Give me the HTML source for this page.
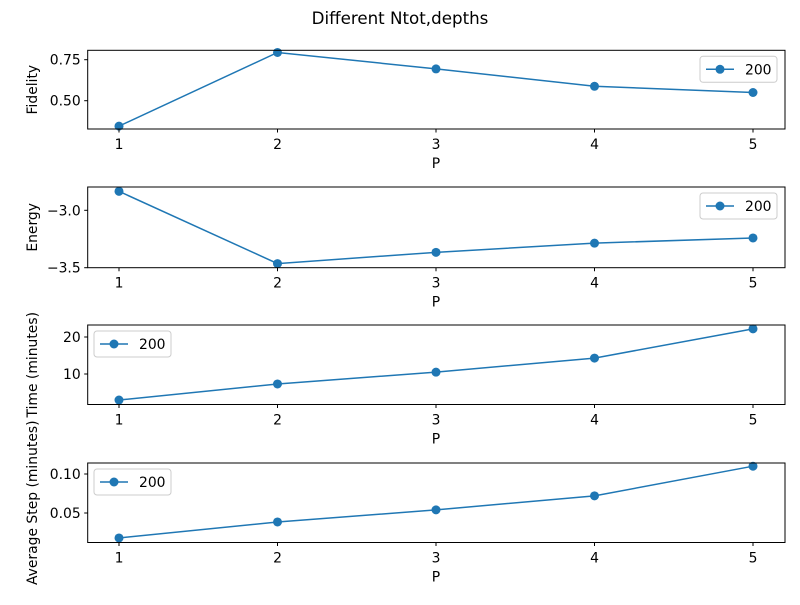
<!DOCTYPE html>
<html><head><meta charset="utf-8"><style>
body{margin:0;background:#fff}
svg text{font-family:"DejaVu Sans","Liberation Sans",sans-serif;fill:#000}
</style></head><body>
<svg id="fig" width="800" height="600" viewBox="0 0 800 600" xmlns="http://www.w3.org/2000/svg">
<text x="400" y="24" font-size="16.7" text-anchor="middle">Different Ntot,depths</text>
</svg>
<script>
const categories=[1,2,3,4,5];
const fidelity=[0.345,0.794,0.694,0.588,0.55];
const energy=[-2.835,-3.464,-3.366,-3.286,-3.241];
const timeMin=[2.97,7.3,10.5,14.3,22.2];
const avgStep=[0.018,0.0385,0.054,0.072,0.110];
const fidTicks=[0.5,0.75], fidLabels=["0.50","0.75"];
const enTicks=[-3.5,-3.0], enLabels=["\u22123.5","\u22123.0"];
const timeTicks=[10,20], timeLabels=["10","20"];
const stepTicks=[0.05,0.10], stepLabels=["0.05","0.10"];
const NS="http://www.w3.org/2000/svg";
const svg=document.getElementById('fig');
function mk(tag,attrs,parent){const e=document.createElementNS(NS,tag);for(const k in attrs)e.setAttribute(k,attrs[k]);(parent||svg).appendChild(e);return e;}
const L=87.7,R=785,P1=119,P5=753;
function xs(p){return P1+(p-1)*(P5-P1)/4;}
const panels=[
 {name:'fidelity',top:50.3,bot:129,vals:fidelity,ticks:fidTicks,labels:fidLabels,ref:[0.5,100.7,0.75,59.7],ylabel:'Fidelity',legR:true},
 {name:'energy',top:187,bot:267.7,vals:energy,ticks:enTicks,labels:enLabels,ref:[-3.5,267.7,-3.0,210.3],ylabel:'Energy',legR:true},
 {name:'time',top:325,bot:404.5,vals:timeMin,ticks:timeTicks,labels:timeLabels,ref:[10,374,20,337],ylabel:'Time (minutes)',legR:false},
 {name:'avg-step',top:463,bot:542.5,vals:avgStep,ticks:stepTicks,labels:stepLabels,ref:[0.05,513,0.10,474],ylabel:'Average Step (minutes)',legR:false}
];
panels.forEach(p=>{
 const g=mk('g',{});
 
 
 const [v0,y0,v1,y1]=p.ref;
 const ys=v=>y0+(v-v0)*(y1-y0)/(v1-v0);
 const line=mk('polyline',{points:p.vals.map((v,i)=>xs(categories[i])+','+ys(v)).join(' '),fill:'none',stroke:'#1f77b4','stroke-width':1.5},g);
 
 
 p.vals.forEach((v,i)=>{
  const c=mk('circle',{cx:xs(categories[i]),cy:ys(v),r:4.5,fill:'#1f77b4'},g);
  
  
 });
 const fr=mk('rect',{x:L,y:p.top,width:R-L,height:p.bot-p.top,fill:'none',stroke:'#000','stroke-width':1},g);
 
 
 categories.forEach(c=>{
  mk('line',{x1:xs(c),x2:xs(c),y1:p.bot,y2:p.bot+3.5,stroke:'#000'},g);
  const t=mk('text',{x:xs(c),y:p.bot+20,'font-size':13.9,'text-anchor':'middle'},g);t.textContent=c;
  
  
 });
 const xl=mk('text',{x:436,y:p.bot+39,'font-size':13.9,'text-anchor':'middle'},g);xl.textContent='P';
 
 
 p.ticks.forEach((t,i)=>{
  mk('line',{x1:L-3.5,x2:L,y1:ys(t),y2:ys(t),stroke:'#000'},g);
  const tx=mk('text',{x:L-7,y:ys(t)+5,'font-size':13.9,'text-anchor':'end'},g);tx.textContent=p.labels[i];
  
  
 });
 const cy=(p.top+p.bot)/2;
 const yl=mk('text',{x:0,y:0,'font-size':13.9,'text-anchor':'middle',transform:'translate(37,'+cy+') rotate(-90)'},g);yl.textContent=p.ylabel;
 
 
 const lx=p.legR?700:94, ly=p.top+6;
 const lg=mk('g',{},g);
 
 
 mk('rect',{x:lx,y:ly,width:77,height:26,rx:3,fill:'#fff',stroke:'#ccc'},lg);
 mk('line',{x1:lx+6,x2:lx+34,y1:ly+13,y2:ly+13,stroke:'#1f77b4','stroke-width':1.5},lg);
 mk('circle',{cx:lx+20,cy:ly+13,r:4.5,fill:'#1f77b4'},lg);
 const lt=mk('text',{x:lx+45,y:ly+18,'font-size':13.9},lg);lt.textContent='200';
});
</script>
</body></html>
